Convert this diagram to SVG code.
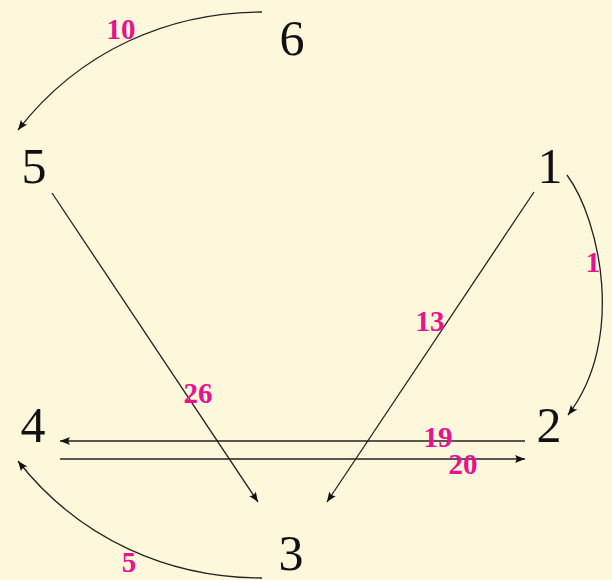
<svg xmlns="http://www.w3.org/2000/svg" width="612" height="580" viewBox="0 0 612 580">
<style>
.n{font-family:"Liberation Serif","DejaVu Serif",serif;font-size:50px;fill:#111;text-anchor:middle}
.l{font-family:"Liberation Serif","DejaVu Serif",serif;font-size:29px;font-weight:bold;fill:#E8128C;text-anchor:middle}
.e{fill:none;stroke:#222;stroke-width:1.3;marker-end:url(#a)}
</style>
<defs>
<marker id="a" markerUnits="userSpaceOnUse" markerWidth="14" markerHeight="10" viewBox="-11 -5 12 10" refX="0" refY="0" orient="auto">
<path d="M0,0 L-10,-4 Q-7,0 -10,4 Z" fill="#111"/>
</marker>
</defs>
<rect width="612" height="580" fill="#FDF8DC"/>
<g id="edges">
<path class="e" d="M262,12 C170,12 80,50 18,130"/>
<path class="e" d="M567,175 C600,220 626,340 568,415"/>
<path class="e" d="M52,193 L258,502"/>
<path class="e" d="M534,192 L327,502"/>
<path class="e" d="M525,441 L60,441"/>
<path class="e" d="M60,459 L525,459"/>
<path class="e" d="M262,578 C170,578 80,540 18,461"/>
<text class="l" x="121" y="39">10</text>
<text class="l" x="593" y="272">1</text>
<text class="l" x="198" y="403">26</text>
<text class="l" x="430" y="331">13</text>
<text class="l" x="438" y="447">19</text>
<text class="l" x="463" y="474">20</text>
<text class="l" x="129" y="572">5</text>
</g>
<g id="node1"><text class="n" x="550" y="183">1</text></g>
<g id="node2"><text class="n" x="549" y="442">2</text></g>
<g id="node3"><text class="n" x="291" y="570">3</text></g>
<g id="node4"><text class="n" x="33" y="442">4</text></g>
<g id="node5"><text class="n" x="34" y="183">5</text></g>
<g id="node6"><text class="n" x="292" y="55">6</text></g>
</svg>
